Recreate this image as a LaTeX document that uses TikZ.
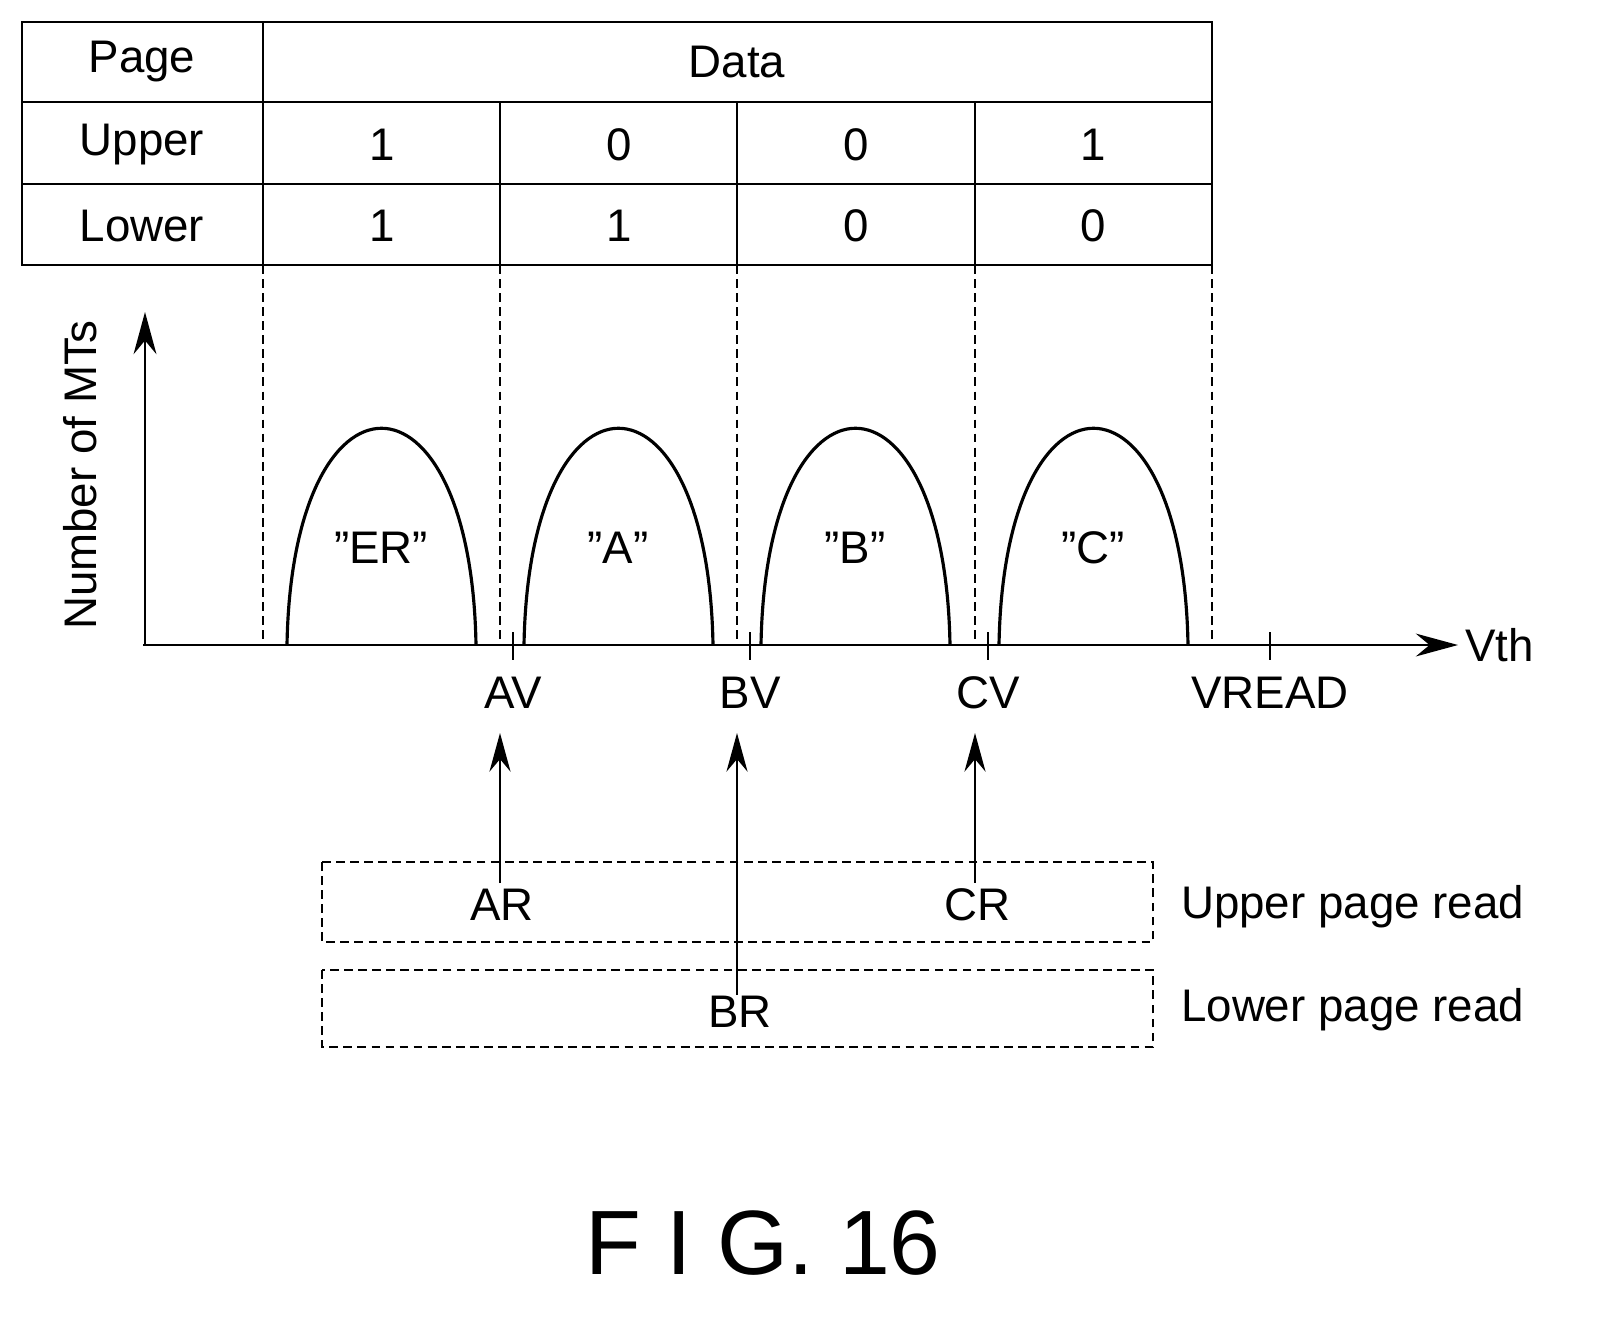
\documentclass[tikz,border=0pt]{standalone}
\usepackage{fontspec}
\setmainfont{Liberation Sans}
\usetikzlibrary{arrows.meta,positioning}
\tikzset{
  lbl/.style={font=\fontsize{26}{30}\selectfont},
  grid line/.style={line width=1.4pt},
  guide/.style={line width=1pt,dashed,dash pattern=on 5pt off 3pt},
  readbox/.style={line width=1pt,dashed,dash pattern=on 5pt off 3pt},
  axis/.style={line width=1.4pt,-{Stealth[length=24pt,width=13pt]}},
  ptr/.style={line width=1.4pt,-{Stealth[length=22pt,width=12pt]}},
  hump/.style={line width=1.8pt}
}
\begin{document}
\begin{tikzpicture}[x=0.02cm,y=-0.02cm]
  \useasboundingbox (0,0) rectangle (1606,1323);

  %table
  \draw[grid line] (22,22) rectangle (1212,265);
  \draw[grid line] (22,102) -- (1212,102);
  \draw[grid line] (22,184) -- (1212,184);
  \draw[grid line] (263,22) -- (263,265);
  \foreach \x in {500,737,975}
    \draw[grid line] (\x,102) -- (\x,265);
  \node[lbl] (page) at (142,62) {Page};
  \node[lbl] (data) at (737,62) {Data};
  \node[lbl] (upper) at (142,145) {Upper};
  \node[lbl] (lower) at (142,226) {Lower};
  \foreach \x/\u/\l in {382/1/1,619/0/1,856/0/0,1093/1/0}{
    \node[lbl] at (\x,145) {\u};
    \node[lbl] at (\x,226) {\l};
  }

  %guides
  \foreach \x in {263,500,737,975,1212}
    \draw[guide] (\x,265) -- (\x,645);

  %axes
  \coordinate (org) at (143,645);
  \coordinate (xend) at (1458,645);
  \coordinate (yend) at (145,312);
  \draw[axis] (org) -- (xend) node[lbl,anchor=west] {Vth};
  \draw[axis] (145,645) -- (yend);
  \node[lbl,rotate=90] (ylab) at (80,475) {Number of MTs};

  %ticks
  \foreach \x/\t in {513/AV,750/BV,988/CV,1270/VREAD}{
    \draw[grid line] (\x,632) -- (\x,660);
    \node[lbl] (\t) at (\x,693) {\t};
  }

  %distributions
  \foreach \a/\s in {287/ER,524/A,761/B,999/C}{
    \draw[hump] (\a,645) .. controls (\a+5,356) and (\a+184,356) .. (\a+189,645);
    \node[lbl] at (\a+94,548) {\textquotedblright\s\textquotedblright};
  }

  %read boxes
  \draw[readbox] (322,862) rectangle (1153,942);
  \draw[readbox] (322,970) rectangle (1153,1047);
  \node[lbl] (AR) at (502,905) {AR};
  \node[lbl] (CR) at (977,905) {CR};
  \node[lbl] (BR) at (740,1012) {BR};
  \node[lbl,anchor=west] (upread) at (1175,907) {Upper page read};
  \node[lbl,anchor=west] (lowread) at (1175,1010) {Lower page read};
  \coordinate (ARtip) at (500,733);
  \coordinate (BRtip) at (737,733);
  \coordinate (CRtip) at (975,733);
  \draw[ptr] (AR.north) ++(-2,0) -- (ARtip);
  \draw[ptr] (737,995) -- (BRtip);
  \draw[ptr] (CR.north) ++(-2,0) -- (CRtip);

  \node[font=\fontsize{52}{60}\selectfont] (fig) at (763,1243) {F I G. 16};
\end{tikzpicture}
\end{document}
